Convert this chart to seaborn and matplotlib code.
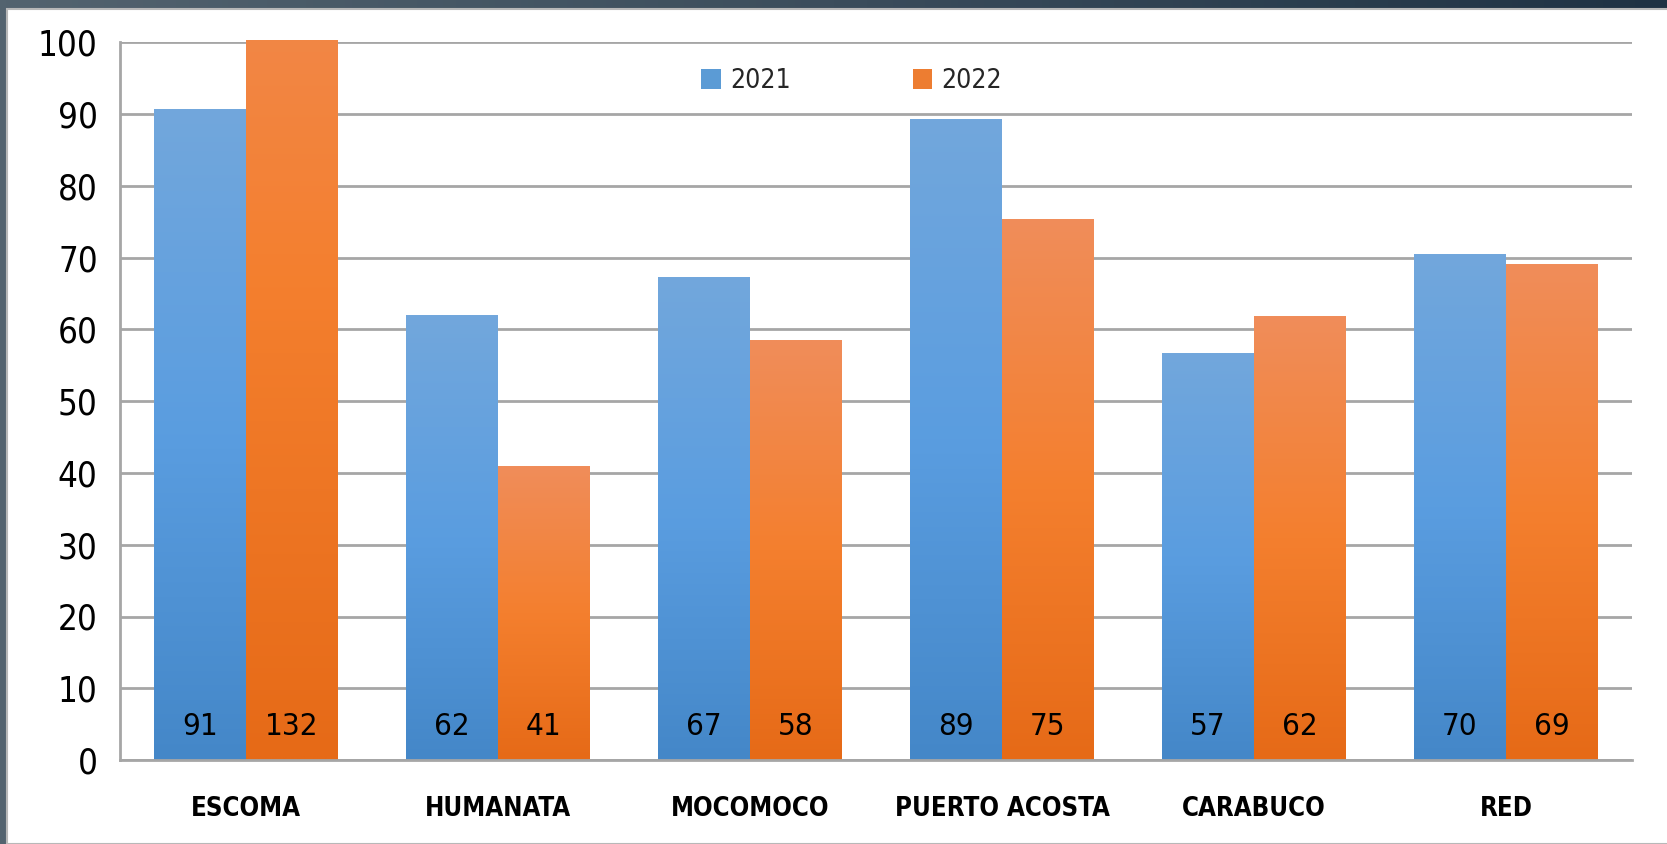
import numpy as np
import pandas as pd
import matplotlib
matplotlib.use("Agg")
import matplotlib.pyplot as plt
from matplotlib import font_manager as fm
from matplotlib.colors import LinearSegmentedColormap
from matplotlib.patches import Rectangle
import seaborn as sns

sites = ["ESCOMA", "HUMANATA", "MOCOMOCO", "PUERTO ACOSTA", "CARABUCO", "RED"]
years = ["2021", "2022"]
values_2021 = [90.7, 62.0, 67.2, 89.2, 56.6, 70.4]
values_2022 = [132.0, 40.9, 58.4, 75.4, 61.8, 69.0]
y_ticks = [0, 10, 20, 30, 40, 50, 60, 70, 80, 90, 100]

df = pd.DataFrame({
    "site": sites * 2,
    "year": [years[0]] * len(sites) + [years[1]] * len(sites),
    "value": values_2021 + values_2022,
})

sns.set_theme(style="white")

# look for a condensed / narrow face among the installed fonts
cond_names = ("condensed", "semi-condensed", "extra-condensed", "ultra-condensed")
cand = None
for f in fm.fontManager.ttflist:
    st = f.stretch
    is_cond = ("Narrow" in f.name or "Condensed" in f.name
               or (isinstance(st, str) and st in cond_names)
               or (isinstance(st, (int, float)) and st < 500))
    if is_cond and f.name in ("Liberation Sans Narrow", "Roboto Condensed", "Roboto",
                              "Open Sans Condensed", "Open Sans", "Noto Sans",
                              "Noto Sans Display", "DejaVu Sans", "Lato", "Inter"):
        cand = (f.name, st)
        break

if cand is not None:
    fam, stretch = cand
    scale = 1.0
else:
    fam, stretch = "Liberation Sans", "normal"
    scale = 0.88

plt.rcParams["font.family"] = [fam, "DejaVu Sans"]
plt.rcParams["font.stretch"] = stretch

W, H = 1667, 844
fig = plt.figure(figsize=(W / 100, H / 100), dpi=100)

# dark frame background with gradient
bg = fig.add_axes([0, 0, 1, 1], zorder=-10)
grad = np.linspace(0, 1, 256)[None, :]
bg_cmap = LinearSegmentedColormap.from_list("bg", ["#53636f", "#3b4d5c", "#1f3244"])
bg.imshow(grad, aspect="auto", cmap=bg_cmap, extent=[0, 1, 0, 1])
bg.add_patch(Rectangle((7 / W, 0), 1, 1 - 9 / H, facecolor="white",
                       edgecolor="#b8b8b8", lw=1.5, transform=bg.transAxes))
bg.set_axis_off()

ax = fig.add_axes([120 / W, 84 / H, 1512 / W, 717.5 / H])
ax.set_facecolor("none")

blue = "#5b9bd5"
orange = "#ed7d31"
sns.barplot(data=df, x="site", y="value", hue="year", palette=[blue, orange],
            width=0.73, saturation=1, ax=ax, order=sites, hue_order=years,
            edgecolor="none")

ax.set_ylim(0, 100)
ax.set_xlim(-0.5, len(sites) - 0.5)
ytop = ax.get_ylim()[1]

cmaps = {
    0: LinearSegmentedColormap.from_list("b", ["#4487c8", "#5a9de0", "#72a7dc"]),
    1: LinearSegmentedColormap.from_list("o", ["#e66a17", "#f47f2e", "#f08d5a"]),
}
vals = [values_2021, values_2022]
for ci, cont in enumerate(ax.containers):
    for patch, v in zip(cont, vals[ci]):
        x0, y0 = patch.get_x(), patch.get_y()
        w, h = patch.get_width(), patch.get_height()
        top = min(y0 + h, ytop + 0.3)
        frac = (top - y0) / h
        g = np.linspace(0, frac, 256)[:, None]
        im = ax.imshow(g, origin="lower", aspect="auto", cmap=cmaps[ci], vmin=0, vmax=1,
                       extent=[x0, x0 + w, y0, top], zorder=patch.get_zorder() + 0.1,
                       clip_on=False)
        patch.set_visible(False)
        ax.text(x0 + w / 2, 4.6, f"{v:.0f}", ha="center", va="center",
                fontsize=22.5 * scale, color="black", zorder=5)

ax.set_ylim(0, 100)
ax.set_xlim(-0.5, len(sites) - 0.5)
ax.set_yticks(y_ticks)
ax.set_yticklabels([str(t) for t in y_ticks])
ax.yaxis.grid(True, color="#a6a6a6", lw=2)
ax.set_axisbelow(True)
for s in ["top", "right"]:
    ax.spines[s].set_visible(False)
for s in ["left", "bottom"]:
    ax.spines[s].set_color("#a6a6a6")
    ax.spines[s].set_linewidth(2)
ax.tick_params(axis="y", length=0, pad=16, labelsize=25 * scale, labelcolor="black")
ax.tick_params(axis="x", length=0, pad=26, labelsize=18.5 * scale, labelcolor="black")
for lab in ax.get_xticklabels():
    lab.set_fontweight("bold")
ax.set_xlabel("")
ax.set_ylabel("")

leg = ax.legend(loc="center", bbox_to_anchor=(0.484, 0.946), ncol=2, frameon=False,
                fontsize=19 * scale, handlelength=0.75, handleheight=0.75,
                handletextpad=0.35, columnspacing=4.6)

fig.savefig("out.png", dpi=100)
